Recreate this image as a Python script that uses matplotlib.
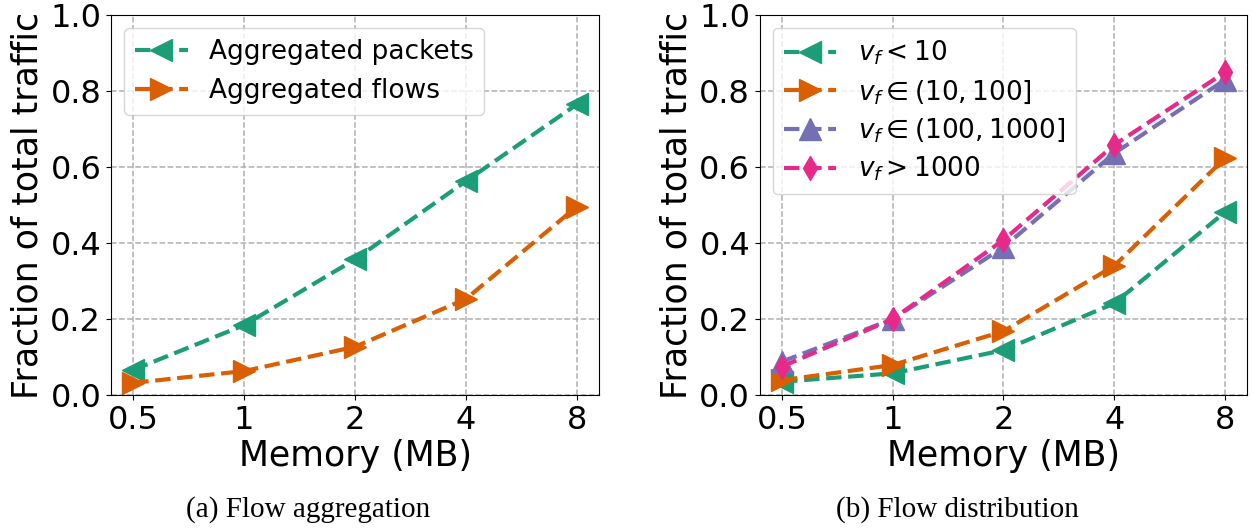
import matplotlib
matplotlib.use('Agg')
import matplotlib.pyplot as plt  # NOQA
from matplotlib.ticker import FixedLocator, FixedFormatter, NullLocator  # NOQA

memory = [0.5, 1, 2, 4, 8]
memory_labels = ['0.5', '1', '2', '4', '8']

# (a) flow aggregation
agg_packets = [0.066, 0.184, 0.357, 0.563, 0.765]
agg_flows = [0.032, 0.063, 0.127, 0.253, 0.496]

# (b) flow distribution
vf_lt10 = [0.035, 0.057, 0.118, 0.241, 0.481]
vf_10_100 = [0.039, 0.079, 0.168, 0.340, 0.623]
vf_100_1000 = [0.088, 0.200, 0.389, 0.636, 0.829]
vf_gt1000 = [0.075, 0.200, 0.408, 0.658, 0.849]

GREEN = '#1b9e77'
ORANGE = '#d95f02'
PURPLE = '#7570b3'
PINK = '#e7298a'

plt.rcParams['mathtext.fontset'] = 'dejavusans'


def style_axes(ax):
    ax.set_xscale('log', base=2)
    ax.xaxis.set_major_locator(FixedLocator(memory))
    ax.xaxis.set_major_formatter(FixedFormatter(memory_labels))
    ax.xaxis.set_minor_locator(NullLocator())
    ax.set_ylim(0, 1.0)
    ax.set_yticks([0.0, 0.2, 0.4, 0.6, 0.8, 1.0])
    ax.tick_params(labelsize=23)
    ax.grid(True, linestyle='--', color='#b0b0b0', linewidth=1.1)
    ax.set_xlabel('Memory (MB)', fontsize=25, labelpad=2)
    ax.set_ylabel('Fraction of total traffic', fontsize=25, labelpad=4)


fig = plt.figure(figsize=(12.52, 5.29), dpi=100)
ax1 = fig.add_axes([0.0887, 0.2533, 0.3898, 0.7183])
ax2 = fig.add_axes([0.607, 0.2533, 0.3890, 0.7183])

kw = dict(linestyle='--', linewidth=3)
ax1.plot(memory, agg_packets, marker='<', markersize=16, color=GREEN,
         label='Aggregated packets', **kw)
ax1.plot(memory, agg_flows, marker='>', markersize=16, color=ORANGE,
         label='Aggregated flows', **kw)
style_axes(ax1)
ax1.legend(loc='upper left', fontsize=19)

ax2.plot(memory, vf_lt10, marker='<', markersize=16, color=GREEN,
         label=r'$v_f < 10$', **kw)
ax2.plot(memory, vf_10_100, marker='>', markersize=16, color=ORANGE,
         label=r'$v_f \in (10, 100]$', **kw)
ax2.plot(memory, vf_100_1000, marker='^', markersize=16, color=PURPLE,
         label=r'$v_f \in (100, 1000]$', **kw)
ax2.plot(memory, vf_gt1000, marker='d', markersize=12, color=PINK,
         label=r'$v_f > 1000$', **kw)
style_axes(ax2)
ax2.legend(loc='upper left', fontsize=19, labelspacing=0.4)

fig.text(308 / 1252., 1 - 510 / 529., '(a) Flow aggregation',
         family='Liberation Serif', fontsize=21, ha='center', va='center')
fig.text(957 / 1252., 1 - 510 / 529., '(b) Flow distribution',
         family='Liberation Serif', fontsize=21, ha='center', va='center')

fig.savefig('out.png', dpi=100)
plt.close(fig)
